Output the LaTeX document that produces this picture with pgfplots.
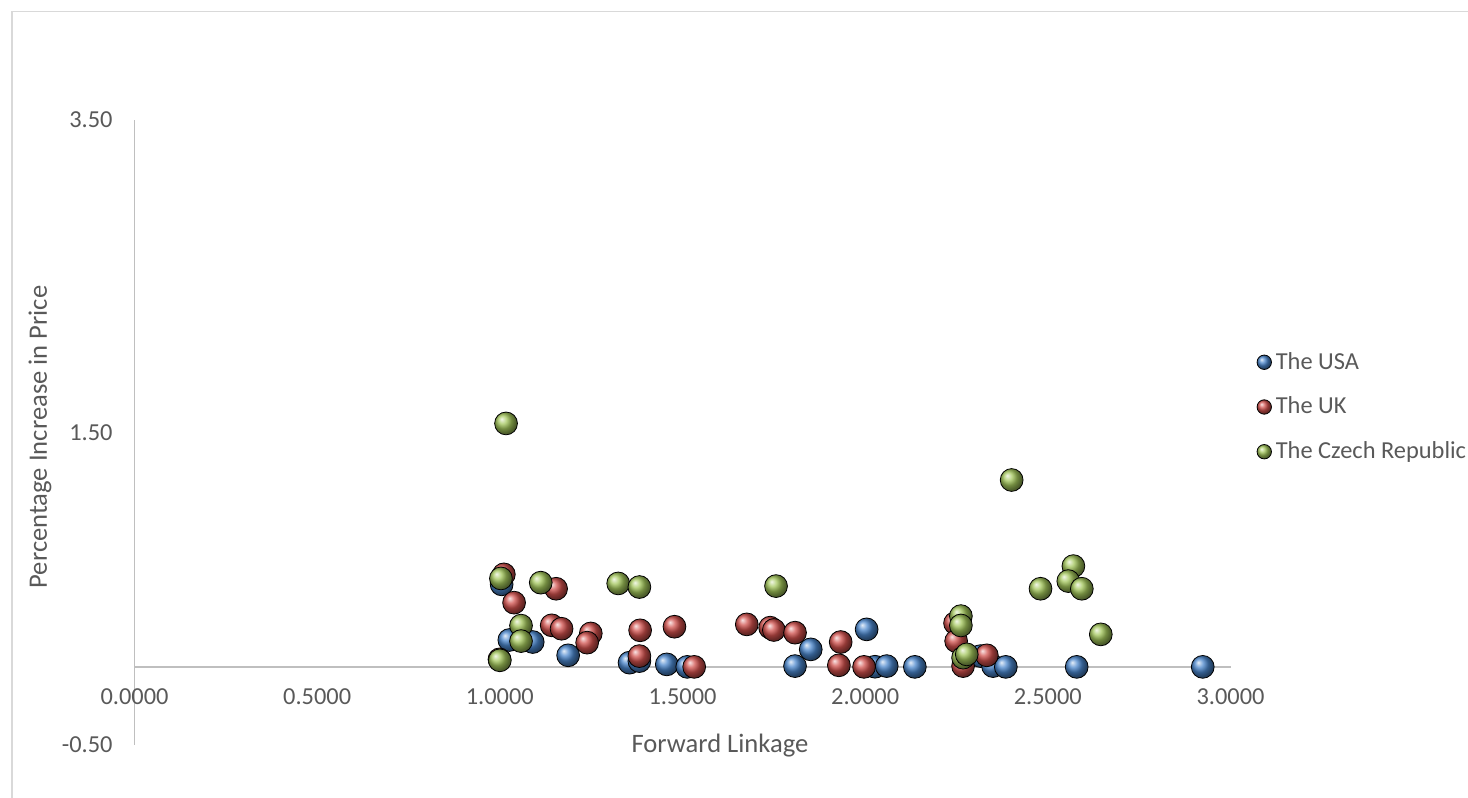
\documentclass[border=0pt]{standalone}
\usepackage{fontspec}
\setmainfont{Carlito}
\usepackage{pgfplots}
\pgfplotsset{compat=1.18}
\definecolor{txt}{HTML}{595959}
\definecolor{axgray}{HTML}{BFBFBF}
\definecolor{framegray}{HTML}{D9D9D9}
\definecolor{usa}{HTML}{4A86CC}
\definecolor{uk}{HTML}{D0504C}
\definecolor{cz}{HTML}{A2C55A}

\begin{document}
\begin{tikzpicture}[font=\fontsize{12.2}{14.6}\selectfont]
\begin{axis}[
  scale only axis, width=548pt, height=312.5pt,
  xmin=0, xmax=3, ymin=-0.5, ymax=3.5,
  axis x line=middle, axis y line=left,
  axis line style={-, draw=axgray, line width=0.75pt},
  hide obscured x ticks=false, hide obscured y ticks=false,
  major tick length=0pt,
  xtick={0,0.5,1,1.5,2,2.5,3},
  xticklabels={0.0000,0.5000,1.0000,1.5000,2.0000,2.5000,3.0000},
  ytick={-0.5,1.5,3.5}, yticklabels={-0.50,1.50,3.50},
  tick label style={font=\fontsize{12.2}{14.6}\selectfont},
  xticklabel style={anchor=center, yshift=-14.75pt, text=txt},
  yticklabel style={anchor=east, inner sep=0pt, xshift=-10.75pt, text=txt},
  clip=false,
  legend style={at={(1.0235,0.5408)}, anchor=west, draw=none, fill=none,
    inner sep=0pt, row sep=8.4pt, text=txt, font=\fontsize{12.2}{14.6}\selectfont},
  legend cell align=left,
  legend image code/.code={\draw[#1, mark size=3.6pt] plot coordinates {(0pt,0pt)};},
]
% USA
\addplot[only marks, mark=ball, mark size=5.7pt, mark options={ball color=usa, draw=none}] coordinates {
(1.005,0.528) (1.026,0.172) (1.090,0.159) (1.187,0.074) (1.355,0.027)
(1.382,0.037) (1.457,0.016) (1.513,0.000) (1.808,0.005) (1.851,0.112)
(2.004,0.240) (2.027,0.001) (2.059,0.005) (2.136,0.000) (2.316,0.069)
(2.350,0.005) (2.385,0.000) (2.579,0.000) (2.924,0.000)
};
\addlegendentry{The USA}
% UK
\addplot[only marks, mark=ball, mark size=5.7pt, mark options={ball color=uk, draw=none}] coordinates {
(1.011,0.592) (1.039,0.411) (0.999,0.048) (1.154,0.500) (1.142,0.266)
(1.169,0.244) (1.249,0.214) (1.239,0.155) (1.384,0.234) (1.382,0.069)
(1.478,0.257) (1.532,0.000) (1.676,0.272) (1.740,0.251) (1.750,0.236)
(1.808,0.219) (1.933,0.159) (1.928,0.010) (1.997,0.000) (2.246,0.280)
(2.249,0.165) (2.268,0.005) (2.333,0.074)
};
\addlegendentry{The UK}
% Czech Republic
\addplot[only marks, mark=ball, mark size=5.7pt, mark options={ball color=cz, draw=none}] coordinates {
(1.017,1.558) (1.003,0.566) (1.000,0.042) (1.058,0.264) (1.058,0.165)
(1.112,0.539) (1.324,0.534) (1.382,0.511) (1.756,0.517) (2.262,0.325)
(2.262,0.265) (2.268,0.059) (2.278,0.080) (2.401,1.196) (2.480,0.500)
(2.570,0.645) (2.556,0.549) (2.593,0.500) (2.645,0.208)
};
\addlegendentry{The Czech Republic}
\end{axis}
% axis titles
\node[text=txt, rotate=90, font=\fontsize{13.3}{16}\selectfont] at (-47.25pt,154pt) {Percentage Increase in Price};
\node[text=txt, font=\fontsize{13.3}{16}\selectfont] at (292.75pt,-0.5pt) {Forward Linkage};
% chart frame
\draw[framegray, line width=0.75pt] (-61.25pt,-40pt) -- (-61.25pt,366.75pt) -- (680pt,366.75pt);
\pgfresetboundingbox
\useasboundingbox (-67.25pt,-26.5pt) rectangle (666.75pt,372.5pt);
\end{tikzpicture}
\end{document}
